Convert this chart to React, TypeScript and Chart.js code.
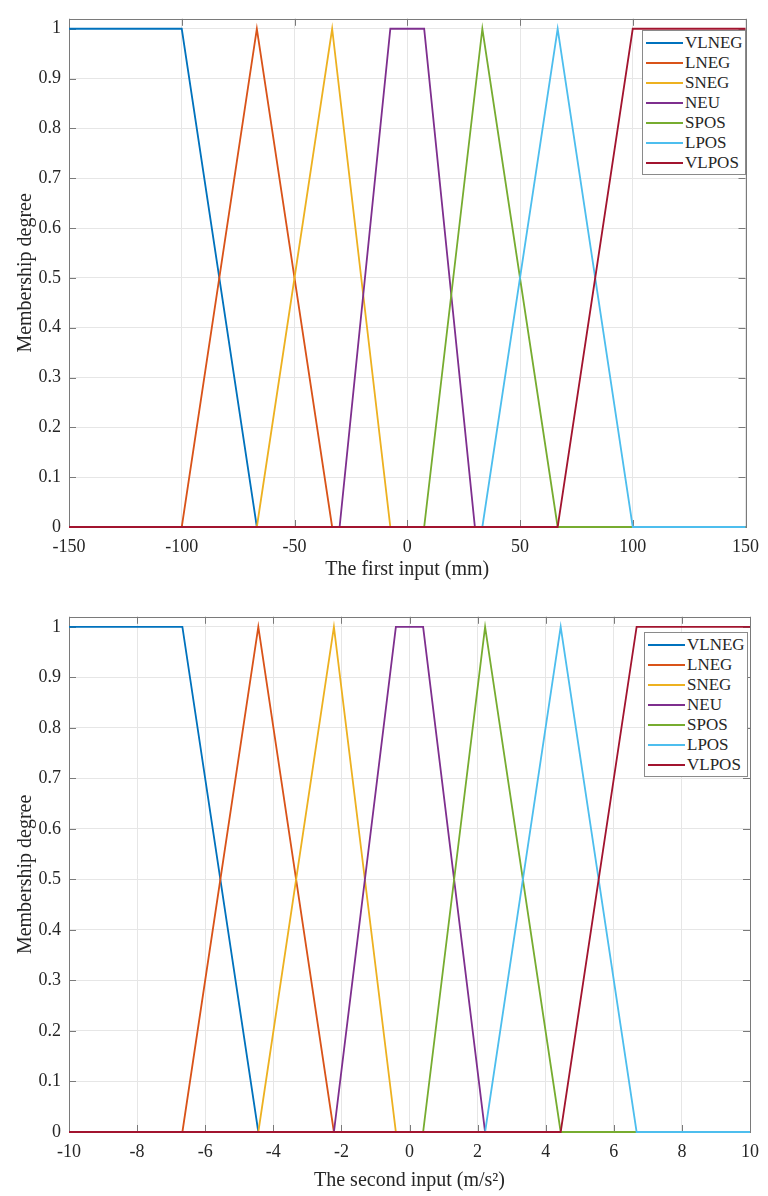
import React, { useEffect, useRef } from "react";
import { Chart, registerables } from "chart.js";
Chart.register(...registerables);

const SERIES_NAMES = ["VLNEG", "LNEG", "SNEG", "NEU", "SPOS", "LPOS", "VLPOS"];
const SERIES_COLORS = ["#0072BD", "#D95319", "#EDB120", "#7E2F8E", "#77AC30", "#4DBEEE", "#A2142F"];

// membership values at breakpoints
const Y_VLNEG = [1, 1, 0, 0];
const Y_TRI = [0, 0, 1, 0, 0];
const Y_NEU = [0, 0, 1, 1, 0, 0];
const Y_VLPOS = [0, 0, 1, 1];

// first input (mm) breakpoints
const X1_VLNEG = [-150, -100, -66.7, 150];
const X1_LNEG = [-150, -100, -66.7, -33.3, 150];
const X1_SNEG = [-150, -66.7, -33.3, -7.5, 150];
const X1_NEU = [-150, -30, -7.5, 7.5, 30, 150];
const X1_SPOS = [-150, 7.5, 33.3, 66.7, 150];
const X1_LPOS = [-150, 33.3, 66.7, 100, 150];
const X1_VLPOS = [-150, 66.7, 100, 150];

// second input (m/s^2) breakpoints
const X2_VLNEG = [-10, -6.67, -4.44, 10];
const X2_LNEG = [-10, -6.67, -4.44, -2.22, 10];
const X2_SNEG = [-10, -4.44, -2.22, -0.4, 10];
const X2_NEU = [-10, -2.22, -0.4, 0.4, 2.22, 10];
const X2_SPOS = [-10, 0.4, 2.22, 4.44, 10];
const X2_LPOS = [-10, 2.22, 4.44, 6.67, 10];
const X2_VLPOS = [-10, 4.44, 6.67, 10];

const X1_TICKS = [-150, -100, -50, 0, 50, 100, 150];
const X2_TICKS = [-10, -8, -6, -4, -2, 0, 2, 4, 6, 8, 10];
const Y_TICKS = [0, 0.1, 0.2, 0.3, 0.4, 0.5, 0.6, 0.7, 0.8, 0.9, 1];
const Y_TICK_LABELS = ["0", "0.1", "0.2", "0.3", "0.4", "0.5", "0.6", "0.7", "0.8", "0.9", "1"];

const YS = [Y_VLNEG, Y_TRI, Y_TRI, Y_NEU, Y_TRI, Y_TRI, Y_VLPOS];
const XS1 = [X1_VLNEG, X1_LNEG, X1_SNEG, X1_NEU, X1_SPOS, X1_LPOS, X1_VLPOS];
const XS2 = [X2_VLNEG, X2_LNEG, X2_SNEG, X2_NEU, X2_SPOS, X2_LPOS, X2_VLPOS];

const FONT = "'Liberation Serif', 'Times New Roman', serif";
const TEXT_COLOR = "#262626";
const BOX_COLOR = "#7a7a7a";
const GRID_COLOR = "#e6e6e6";

const boxPlugin = {
  id: "matlabBox",
  beforeDatasetsDraw(chart: any) {
    const { ctx, chartArea } = chart;
    const { left, right, top, bottom } = chartArea;
    const xs = chart.scales.x;
    const ys = chart.scales.y;
    const tl = 7;
    ctx.save();
    ctx.strokeStyle = BOX_COLOR;
    ctx.lineWidth = 1;
    ctx.beginPath();
    xs.ticks.forEach((t: any) => {
      const px = Math.round(xs.getPixelForValue(t.value)) + 0.5;
      ctx.moveTo(px, bottom);
      ctx.lineTo(px, bottom - tl);
      ctx.moveTo(px, top);
      ctx.lineTo(px, top + tl);
    });
    ys.ticks.forEach((t: any) => {
      const py = Math.round(ys.getPixelForValue(t.value)) + 0.5;
      ctx.moveTo(left, py);
      ctx.lineTo(left + tl, py);
      ctx.moveTo(right, py);
      ctx.lineTo(right - tl, py);
    });
    ctx.stroke();
    ctx.strokeRect(Math.round(left) + 0.5, Math.round(top) + 0.5, Math.round(right - left), Math.round(bottom - top));
    ctx.restore();
  },
};

type PanelProps = {
  xs: number[][];
  xTicks: number[];
  xMin: number;
  xMax: number;
  xTitle: string;
  height: number;
  padTop: number;
  padRight: number;
  xAxisHeight: number;
  titlePadBottom: number;
};

function Panel(p: PanelProps) {
  const ref = useRef<HTMLCanvasElement | null>(null);
  useEffect(() => {
    if (!ref.current) return;
    const chart = new Chart(ref.current, {
      type: "line",
      data: {
        datasets: SERIES_NAMES.map((name, i) => ({
          label: name,
          data: p.xs[i].map((x, j) => ({ x, y: YS[i][j] })),
          borderColor: SERIES_COLORS[i],
          backgroundColor: SERIES_COLORS[i],
          borderWidth: 1.8,
          pointRadius: 0,
          fill: false,
          tension: 0,
          order: SERIES_NAMES.length - 1 - i,
          clip: false,
        })),
      },
      options: {
        animation: false,
        responsive: false,
        maintainAspectRatio: false,
        layout: { padding: { top: p.padTop, right: p.padRight, left: 0, bottom: 0 } },
        plugins: { legend: { display: false }, tooltip: { enabled: false } },
        scales: {
          x: {
            type: "linear",
            min: p.xMin,
            max: p.xMax,
            afterBuildTicks: (s: any) => {
              s.ticks = p.xTicks.map((v) => ({ value: v }));
            },
            afterFit: (s: any) => {
              s.height = p.xAxisHeight;
            },
            ticks: {
              padding: 9,
              autoSkip: false,
              maxRotation: 0,
              color: TEXT_COLOR,
              font: { family: FONT, size: 18 },
              callback: (v: any) => String(v),
            },
            grid: { color: GRID_COLOR, drawTicks: false },
            border: { display: false },
            title: {
              display: true,
              text: p.xTitle,
              color: TEXT_COLOR,
              font: { family: FONT, size: 20 },
              padding: { top: 0, bottom: p.titlePadBottom },
            },
          },
          y: {
            type: "linear",
            min: 0,
            max: 1.02,
            afterBuildTicks: (s: any) => {
              s.ticks = Y_TICKS.map((v) => ({ value: v }));
            },
            afterFit: (s: any) => {
              s.width = 69;
            },
            ticks: {
              padding: 8,
              autoSkip: false,
              color: TEXT_COLOR,
              font: { family: FONT, size: 18 },
              callback: (_v: any, i: number) => Y_TICK_LABELS[i],
            },
            grid: { color: GRID_COLOR, drawTicks: false },
            border: { display: false },
            title: {
              display: true,
              text: "Membership degree",
              color: TEXT_COLOR,
              font: { family: FONT, size: 20 },
              padding: { top: 14, bottom: 0 },
            },
          },
        },
      } as any,
      plugins: [boxPlugin],
    });
    return () => chart.destroy();
  }, []);
  return <canvas ref={ref} width={768} height={p.height} style={{ display: "block" }} />;
}

function Legend({ left, top }: { left: number; top: number }) {
  return (
    <div
      style={{
        position: "absolute",
        left,
        top,
        width: 104,
        padding: "2px 0 1px 0",
        border: "1px solid #8a8a8a",
        background: "#fff",
        boxSizing: "border-box",
        fontFamily: FONT,
        fontSize: 17,
        color: TEXT_COLOR,
      }}
    >
      {SERIES_NAMES.map((n, i) => (
        <div key={n} style={{ display: "flex", alignItems: "center", height: 20 }}>
          <div style={{ width: 37, height: 2, marginLeft: 3, background: SERIES_COLORS[i] }} />
          <span style={{ marginLeft: 2, lineHeight: "20px" }}>{n}</span>
        </div>
      ))}
    </div>
  );
}

export default function App() {
  return (
    <div style={{ position: "absolute", left: 0, top: 0, width: 768, height: 1196, background: "#fff" }}>
      <div style={{ position: "absolute", left: 0, top: 0 }}>
        <Panel
          xs={XS1}
          xTicks={X1_TICKS}
          xMin={-150}
          xMax={150}
          xTitle="The first input (mm)"
          height={598}
          padTop={7}
          padRight={17}
          xAxisHeight={71}
          titlePadBottom={16}
        />
      </div>
      <div style={{ position: "absolute", left: 0, top: 598 }}>
        <Panel
          xs={XS2}
          xTicks={X2_TICKS}
          xMin={-10}
          xMax={10}
          xTitle="The second input (m/s²)"
          height={598}
          padTop={12}
          padRight={11}
          xAxisHeight={64}
          titlePadBottom={3}
        />
      </div>
      <Legend left={642} top={30} />
      <Legend left={644} top={632} />
    </div>
  );
}
